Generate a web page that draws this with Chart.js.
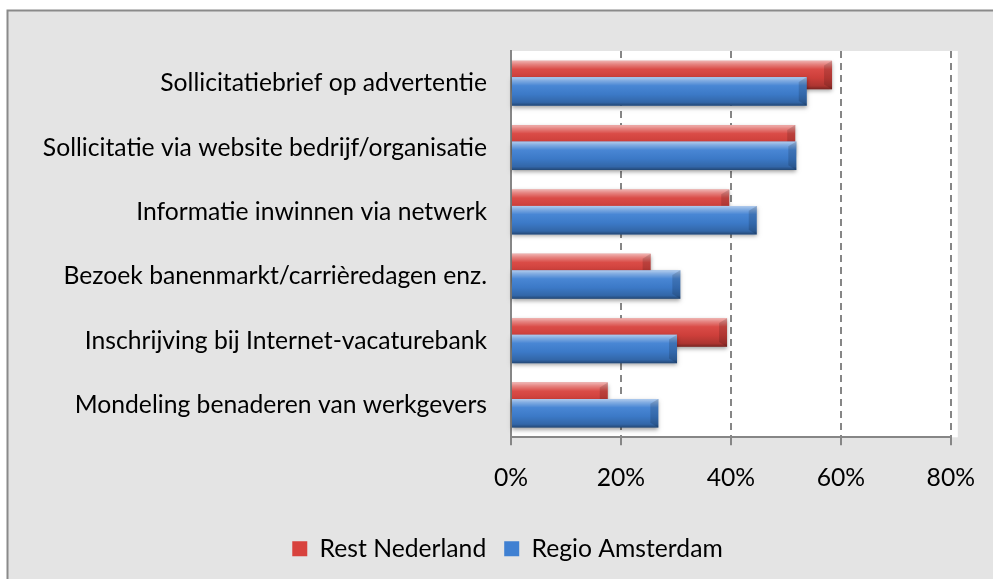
<!DOCTYPE html>
<html>
<head>
<meta charset="utf-8">
<script src="https://cdn.jsdelivr.net/npm/chart.js@4.4.1/dist/chart.umd.min.js"></script>
<style>
html, body { margin: 0; padding: 0; background: #fff; }
</style>
</head>
<body>
<canvas id="myChart" width="993" height="579"></canvas>
<script>
// data (percent)
var categories = [
    'Sollicitatiebrief op advertentie',
    'Sollicitatie via website bedrijf/organisatie',
    'Informatie inwinnen via netwerk',
    'Bezoek banenmarkt/carrièredagen enz.',
    'Inschrijving bij Internet-vacaturebank',
    'Mondeling benaderen van werkgevers'
];
var seriesNames = ['Rest Nederland', 'Regio Amsterdam'];
var restNederland = [58.4, 51.7, 39.7, 25.4, 39.3, 17.6];
var regioAmsterdam = [53.8, 51.9, 44.7, 30.8, 30.2, 26.8];
var xTicks = [0, 20, 40, 60, 80];

var red = '#d8423d';
var blue = '#3f80d2';
var grey = '#868686';
var family = "Lato, 'Open Sans', sans-serif";

// pick a font size so the first label is about as wide as in the picture
var mc = document.createElement('canvas').getContext('2d');
mc.font = '100px ' + family;
var fontSize = Math.round(100 * 327 / mc.measureText(categories[0]).width * 10) / 10;

Chart.defaults.font.family = family;
Chart.defaults.font.size = fontSize;
Chart.defaults.color = '#000';

function shade(chart, i) {
    var ctx = chart.ctx;
    chart.getDatasetMeta(i).data.forEach(function (el) {
        var p = el.getProps(['x', 'y', 'base', 'height'], true);
        var top = p.y - p.height / 2;
        var bottom = top + p.height;
        var len = p.x - p.base;
        var g = ctx.createLinearGradient(0, top, 0, bottom);
        g.addColorStop(0, 'rgba(255,255,255,0.6)');
        g.addColorStop(0.12, 'rgba(255,255,255,0.35)');
        g.addColorStop(0.3, 'rgba(255,255,255,0.05)');
        g.addColorStop(0.6, 'rgba(0,0,0,0.05)');
        g.addColorStop(0.88, 'rgba(0,0,0,0.2)');
        g.addColorStop(1, 'rgba(0,0,0,0.45)');
        ctx.fillStyle = g;
        ctx.fillRect(p.base, top, len, p.height);
        // bevelled right end
        var w = Math.min(8, len);
        ctx.fillStyle = 'rgba(0,0,0,0.14)';
        ctx.beginPath();
        ctx.moveTo(p.x, top);
        ctx.lineTo(p.x, bottom);
        ctx.lineTo(p.x - w, bottom - w * 0.6);
        ctx.lineTo(p.x - w, top + w * 0.6);
        ctx.closePath();
        ctx.fill();
    });
}

// grey frame and white plot area
var frame = {
    id: 'frame',
    beforeDraw: function (chart) {
        var ctx = chart.ctx, a = chart.chartArea;
        ctx.save();
        ctx.fillStyle = '#fff';
        ctx.fillRect(0, 0, chart.width, chart.height);
        ctx.fillStyle = '#e4e4e4';
        ctx.fillRect(7, 10, chart.width, chart.height);
        ctx.strokeStyle = '#8a8a8a';
        ctx.lineWidth = 2;
        ctx.beginPath();
        ctx.moveTo(7.5, chart.height);
        ctx.lineTo(7.5, 10.5);
        ctx.lineTo(chart.width, 10.5);
        ctx.stroke();
        ctx.fillStyle = '#fff';
        ctx.fillRect(a.left, a.top, a.right - a.left + 7, a.bottom - a.top);
        ctx.restore();
    }
};

// legend sits a bit right of the canvas middle
var legendShift = {
    id: 'legendShift',
    afterLayout: function (chart) {
        chart.legend.left = 62;
    }
};

// blue bars overlap the red ones, so draw red first, then blue
var barLook = {
    id: 'barLook',
    beforeDatasetDraw: function (chart, args) {
        if (args.index === 1) return false;
        chart.ctx.save();
        chart.ctx.shadowColor = 'rgba(0,0,0,0.35)';
        chart.ctx.shadowBlur = 4;
        chart.ctx.shadowOffsetY = 2;
    },
    afterDatasetDraw: function (chart, args) {
        if (args.index !== 0) return;
        var ctx = chart.ctx;
        ctx.restore();
        shade(chart, 0);
        ctx.save();
        ctx.shadowColor = 'rgba(0,0,0,0.35)';
        ctx.shadowBlur = 4;
        ctx.shadowOffsetY = 2;
        chart.getDatasetMeta(1).controller.draw();
        ctx.restore();
        shade(chart, 1);
    }
};

new Chart('myChart', {
    type: 'bar',
    data: {
        labels: categories,
        datasets: [
            { label: seriesNames[0], data: restNederland, backgroundColor: red, borderWidth: 0 },
            { label: seriesNames[1], data: regioAmsterdam, backgroundColor: blue, borderWidth: 0 }
        ]
    },
    options: {
        indexAxis: 'y',
        responsive: false,
        animation: false,
        devicePixelRatio: 1,
        datasets: { bar: { categoryPercentage: 0.51, barPercentage: 1.74 } },
        layout: { padding: { top: 51, right: 40, left: 0, bottom: 8 } },
        scales: {
            x: {
                type: 'linear',
                min: 0,
                max: 80,
                afterBuildTicks: function (scale) {
                    scale.ticks = xTicks.map(function (v) { return { value: v }; });
                },
                afterFit: function (scale) { scale.height = 81; },
                ticks: {
                    padding: 18,
                    callback: function (v) { return v + '%'; }
                },
                grid: { color: grey, lineWidth: 2, tickLength: 8, tickColor: grey, tickWidth: 2 },
                border: { color: grey, width: 2, dash: [7, 5] }
            },
            y: {
                type: 'category',
                afterFit: function (scale) { scale.width = 511; },
                grid: { display: false, drawTicks: false },
                border: { color: grey, width: 2 },
                ticks: { padding: 24 }
            }
        },
        plugins: {
            legend: {
                position: 'bottom',
                labels: { boxWidth: 15, boxHeight: 15, padding: 18 }
            },
            tooltip: { enabled: false }
        }
    },
    plugins: [frame, legendShift, barLook]
});
</script>
</body>
</html>
